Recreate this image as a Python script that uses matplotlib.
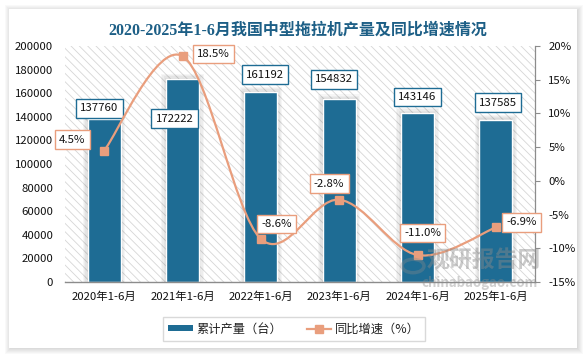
import matplotlib
matplotlib.use("Agg")
import matplotlib.pyplot as plt
import numpy as np
from matplotlib.patches import Rectangle
from matplotlib.path import Path
from matplotlib.patches import PathPatch
from matplotlib.lines import Line2D
from matplotlib.patches import Patch

plt.rcParams['font.family'] = ['Noto Sans CJK SC', 'DejaVu Sans']
plt.rcParams['hatch.linewidth'] = 0.6
plt.rcParams['hatch.color'] = '#d6d6d6'

# ---- data ----
categories = ['2020年1-6月', '2021年1-6月', '2022年1-6月', '2023年1-6月', '2024年1-6月', '2025年1-6月']
production = [137760, 172222, 161192, 154832, 143146, 137585]
growth = [4.5, 18.5, -8.6, -2.8, -11.0, -6.9]
left_ticks = [0, 20000, 40000, 60000, 80000, 100000, 120000, 140000, 160000, 180000, 200000]
right_ticks = [-15, -10, -5, 0, 5, 10, 15, 20]
title = '2020-2025年1-6月我国中型拖拉机产量及同比增速情况'
legend_labels = ['累计产量（台）', '同比增速（%）']

# label offsets in pixels (layout)
bar_lbl_off = [(-5, 11), (-8, -40), (4, 17), (-5, 20), (0, 16), (2, 17)]
line_lbl_off = [(-32, 11), (31, 2), (16, 15), (-10, 16), (5, 22), (26, 5)]

BAR = '#1e6c94'
LINE = '#e99e7d'
TITLE_C = '#1d5f86'

W, H = 587, 358
fig = plt.figure(figsize=(W / 100, H / 100), dpi=100)
fig.patch.set_facecolor('white')

# card shadow and card
cx0, cy0, cx1, cy1 = 9, 9, 577, 348
for k in range(6, 0, -1):
    fig.patches.append(Rectangle(((cx0 - k + 2) / W, 1 - (cy1 + k) / H),
                                 (cx1 - cx0 + 2 * k - 2) / W, (cy1 - cy0 + 2 * k - 2) / H,
                                 transform=fig.transFigure, facecolor='#000000',
                                 alpha=0.022, edgecolor='none', zorder=0))
fig.patches.append(Rectangle((cx0 / W, 1 - cy1 / H), (cx1 - cx0) / W, (cy1 - cy0) / H,
                             transform=fig.transFigure, facecolor='white',
                             edgecolor='none', zorder=0.5))

# axes
x0, x1, yt, yb = 65, 535, 46, 282
ax = fig.add_axes([x0 / W, 1 - yb / H, (x1 - x0) / W, (yb - yt) / H])
ax.set_zorder(1)
ax.patch.set_facecolor('white')
ax.patch.set_hatch('\\\\\\\\')
ax.patch.set_edgecolor('#d6d6d6')
ax.patch.set_linewidth(0)

x = np.arange(len(categories))
bw = 0.42
ax.set_xlim(-0.5, len(categories) - 0.5)
ax.set_ylim(0, 200000)

px_x = 1.0 / 78.33
px_y = 200000 / 236.0
# soft shadows around bars
for k in range(1, 5):
    ax.bar(x, np.array(production) + k * 1.2 * px_y, width=bw + 2 * k * 1.2 * px_x,
           color='#000000', alpha=0.035, linewidth=0, zorder=1)
bars = ax.bar(x, production, width=bw, color=BAR, edgecolor='white', linewidth=1.0, zorder=2)

for i, v in enumerate(production):
    ax.annotate(f'{v}', xy=(x[i], v), xytext=bar_lbl_off[i], textcoords='offset pixels',
                ha='center', va='center', fontsize=8.2, color='#111111', zorder=5,
                bbox=dict(boxstyle='square,pad=0.38', facecolor='white', edgecolor=BAR, linewidth=1.0))

ax.set_yticks(left_ticks)
ax.set_yticklabels([str(t) for t in left_ticks])
ax.set_xticks(x)
ax.set_xticklabels(categories)
ax.tick_params(axis='y', length=0, pad=8.5, labelsize=8.2, colors='#111111')
ax.tick_params(axis='x', length=0, pad=7, labelsize=8.2, colors='#111111')
for s in ['top', 'left', 'right']:
    ax.spines[s].set_visible(False)
ax.spines['bottom'].set_color('#8c8c8c')
ax.spines['bottom'].set_linewidth(1.0)

# right axis
ax2 = ax.twinx()
ax2.set_ylim(-15, 20)
ax2.set_yticks(right_ticks)
ax2.set_yticklabels([f'{t}%' for t in right_ticks])
ax2.tick_params(axis='y', direction='out', length=3.6, width=0.8, color='#8c8c8c', pad=6,
                labelsize=8.2, labelcolor='#111111')
for s in ['top', 'left', 'bottom']:
    ax2.spines[s].set_visible(False)
ax2.spines['right'].set_color('#8c8c8c')
ax2.spines['right'].set_linewidth(0.9)
ax2.patch.set_visible(False)

# smooth line (Catmull-Rom style bezier through the data points)
pts = np.column_stack([x, growth]).astype(float)
verts = [tuple(pts[0])]
codes = [Path.MOVETO]
n = len(pts)
for i in range(n - 1):
    p0 = pts[i - 1] if i > 0 else pts[i]
    p1 = pts[i]
    p2 = pts[i + 1]
    p3 = pts[i + 2] if i + 2 < n else pts[i + 1]
    c1 = p1 + (p2 - p0) / 6.0
    c2 = p2 - (p3 - p1) / 6.0
    verts += [tuple(c1), tuple(c2), tuple(p2)]
    codes += [Path.CURVE4] * 3
ax2.add_patch(PathPatch(Path(verts, codes), facecolor='none', edgecolor=LINE, linewidth=1.6, zorder=3))
ax2.plot(x, growth, linestyle='none', marker='s', markersize=5.5, color=LINE, zorder=4)

for i, v in enumerate(growth):
    ax2.annotate(f'{v:.1f}%', xy=(x[i], v), xytext=line_lbl_off[i], textcoords='offset pixels',
                 ha='center', va='center', fontsize=8.2, color='#111111', zorder=6,
                 bbox=dict(boxstyle='square,pad=0.38', facecolor='white', edgecolor=LINE, linewidth=1.0))

# watermark
fig.text(484 / W, 1 - 261 / H, '观研报告网', fontsize=16.5, fontweight='bold', color='#8a8a8a',
         alpha=0.45, ha='center', va='center', zorder=10)
fig.text(480 / W, 1 - 283 / H, 'chinabaogao.com', fontsize=9.5, fontweight='bold', color='#8a8a8a',
         alpha=0.4, ha='center', va='center', zorder=10)
fig.patches.append(matplotlib.patches.Circle((413 / W, 1 - 266 / H), 11 / W,
                   transform=fig.transFigure, facecolor='none', edgecolor='#8a8a8a',
                   linewidth=2.5, alpha=0.35, zorder=10))

# title
fig.text(298 / W, 1 - 31 / H, title, fontsize=11.5, fontweight='bold', color=TITLE_C,
         ha='center', va='center', family=['Liberation Serif', 'Noto Sans CJK SC'])

# legend
handles = [Patch(facecolor=BAR, edgecolor='none'),
           Line2D([0], [0], color=LINE, linewidth=1.6, marker='s', markersize=5.5)]
leg = fig.legend(handles, legend_labels, loc='center', bbox_to_anchor=(294 / W, 1 - 329 / H),
                 ncol=2, fontsize=8.8, frameon=True, fancybox=False, edgecolor='#d0d0d0',
                 handlelength=2.0, handleheight=0.45, handletextpad=0.3, columnspacing=2.0,
                 borderpad=0.45, labelcolor='#222222')
leg.get_frame().set_linewidth(1.0)

fig.savefig('out.png', dpi=100, facecolor=fig.get_facecolor())
